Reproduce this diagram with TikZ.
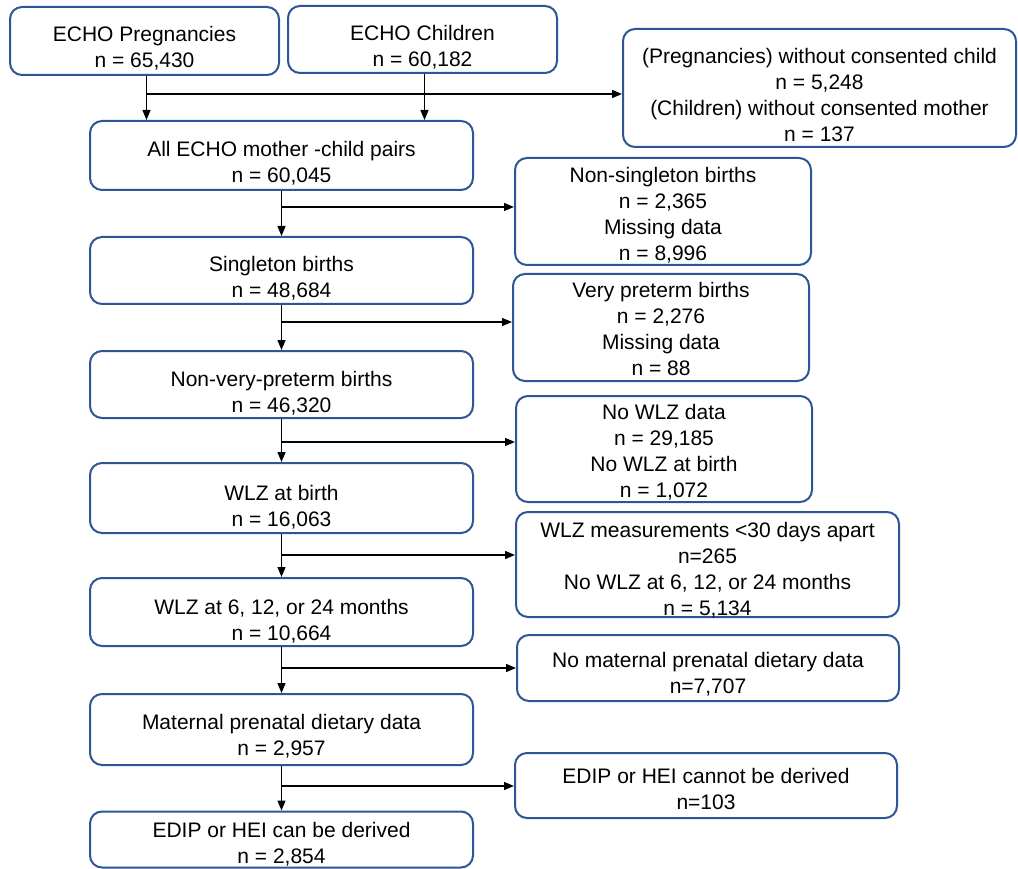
\documentclass[tikz,border=0pt]{standalone}
\usepackage{fontspec}
\setmainfont{Liberation Sans}
\usetikzlibrary{arrows.meta}
\definecolor{boxblue}{RGB}{47,85,151}
\newcommand\bt[2]{\raisebox{-#1}[\height][\depth]{\begin{tabular}{@{}c@{}}#2\end{tabular}}}
\begin{document}
\begin{tikzpicture}[x=1pt,y=-1pt,
  box/.style={draw=boxblue, line width=2pt, rounded corners=12pt, fill=white,
    inner sep=0pt, font=\fontsize{21}{26}\selectfont},
  arr/.style={line width=1.4pt, -{Triangle[length=10pt,width=8pt]}},
  ln/.style={line width=1.4pt}]
\useasboundingbox (0,0) rectangle (1018,869);
% boxes
\node[box, minimum width=269pt, minimum height=68pt] (A) at (144.5,41) {\bt{8pt}{ECHO Pregnancies\\n = 65,430}};
\node[box, minimum width=269pt, minimum height=67pt] (B) at (422.5,39.5) {\bt{9pt}{ECHO Children\\n = 60,182}};
\node[box, minimum width=393pt, minimum height=118pt] (D) at (819.5,88) {\bt{9pt}{(Pregnancies) without consented child\\n = 5,248\\(Children) without consented mother\\n = 137}};
\node[box, minimum width=383pt, minimum height=69pt] (C) at (281.5,155.5) {\bt{9pt}{All ECHO mother -child pairs\\n = 60,045}};
\node[box, minimum width=296pt, minimum height=107pt] (E) at (663,211.5) {\bt{5pt}{Non-singleton births\\n = 2,365\\Missing data\\n = 8,996}};
\node[box, minimum width=383pt, minimum height=67pt] (F) at (281.5,270.5) {\bt{9pt}{Singleton births\\n = 48,684}};
\node[box, minimum width=296pt, minimum height=107pt] (G) at (661,327.5) {\bt{3.5pt}{Very preterm births\\n = 2,276\\Missing data\\n = 88}};
\node[box, minimum width=383pt, minimum height=67pt] (H) at (281.5,384.5) {\bt{9.5pt}{Non-very-preterm births\\n = 46,320}};
\node[box, minimum width=296pt, minimum height=106pt] (I) at (664,449) {\bt{4.5pt}{No WLZ data\\n = 29,185\\No WLZ at birth\\n = 1,072}};
\node[box, minimum width=383pt, minimum height=70pt] (J) at (281.5,498) {\bt{10pt}{WLZ at birth\\n = 16,063}};
\node[box, minimum width=383pt, minimum height=105pt] (K) at (707.5,564.5) {\bt{7pt}{WLZ measurements <30 days apart\\n=265\\No WLZ at 6, 12, or 24 months\\n = 5,134}};
\node[box, minimum width=383pt, minimum height=68pt] (L) at (281.5,612) {\bt{10pt}{WLZ at 6, 12, or 24 months\\n = 10,664}};
\node[box, minimum width=382pt, minimum height=66pt] (M) at (708,668) {\bt{7pt}{No maternal prenatal dietary data\\n=7,707}};
\node[box, minimum width=383pt, minimum height=71pt] (N) at (281.5,729.5) {\bt{8pt}{Maternal prenatal dietary data\\n = 2,957}};
\node[box, minimum width=382pt, minimum height=65pt] (O) at (706,785.5) {\bt{5.5pt}{EDIP or HEI cannot be derived\\n=103}};
\node[box, minimum width=383pt, minimum height=56pt] (P) at (281.5,839.5) {\bt{5.5pt}{EDIP or HEI can be derived\\n = 2,854}};
% top connectors
\coordinate (t0) at (147,94);
\draw[arr] ([xshift=2pt]A.south) -- ([xshift=2pt]A.south |- C.north);
\draw[arr] ([xshift=2pt]B.south) -- ([xshift=2pt]B.south |- C.north);
\draw[arr] (t0) -- (t0 -| D.west);
% left column connectors
\draw[arr] (C.south) -- (F.north);
\draw[arr] (F.south) -- (H.north);
\draw[arr] (H.south) -- (J.north);
\draw[arr] (J.south) -- (L.north);
\draw[arr] (L.south) -- (N.north);
\draw[arr] (N.south) -- (P.north);
% branches
\coordinate (b1) at (281.5,207);
\coordinate (b2) at (281.5,322);
\coordinate (b3) at (281.5,442);
\coordinate (b4) at (281.5,555);
\coordinate (b5) at (281.5,668);
\coordinate (b6) at (281.5,786);
\draw[arr] (b1) -- (b1 -| E.west);
\draw[arr] (b2) -- (b2 -| G.west);
\draw[arr] (b3) -- (b3 -| I.west);
\draw[arr] (b4) -- (b4 -| K.west);
\draw[arr] (b5) -- (b5 -| M.west);
\draw[arr] (b6) -- (b6 -| O.west);
\end{tikzpicture}
\end{document}
